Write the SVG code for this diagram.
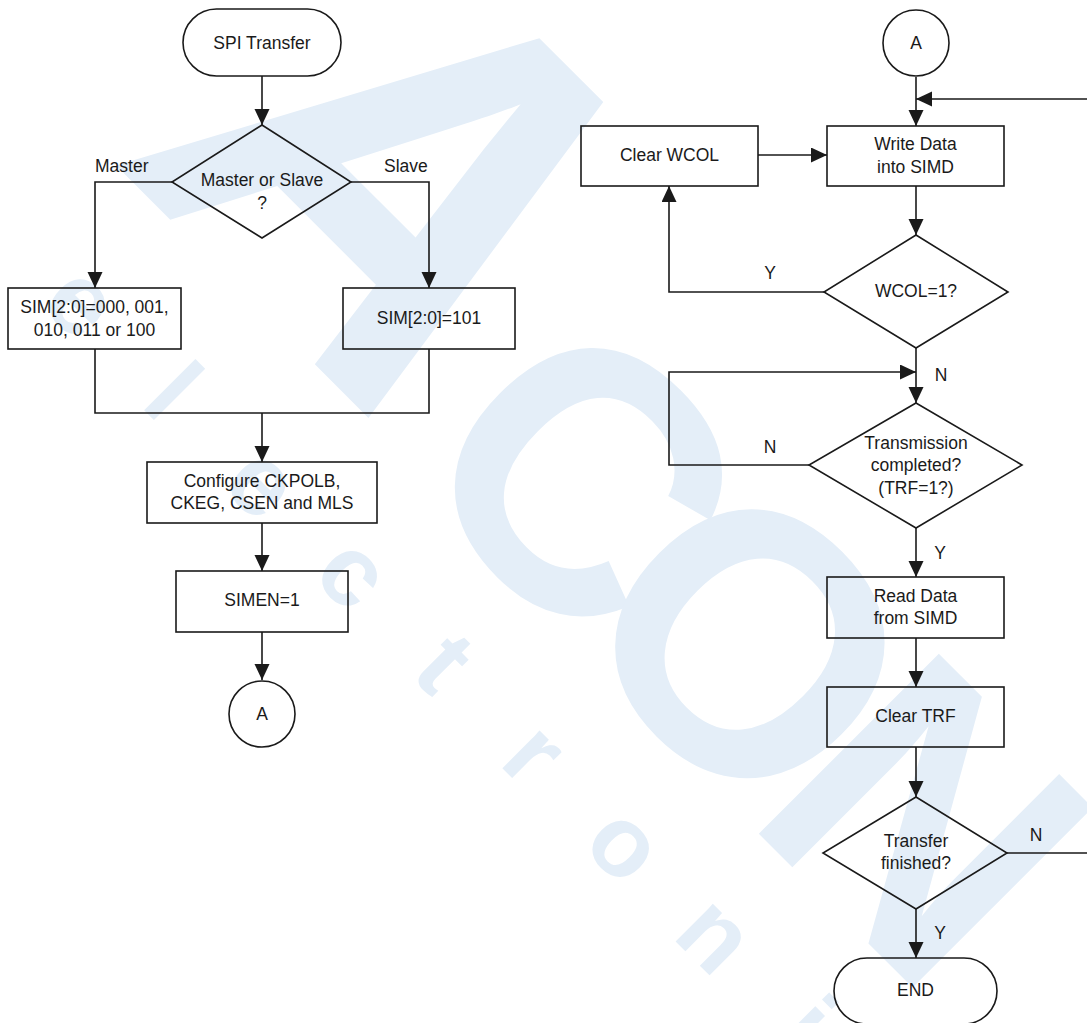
<svg xmlns="http://www.w3.org/2000/svg" width="1087" height="1023" viewBox="0 0 1087 1023">
<defs>
<style>
.n{fill:none;stroke:#1a1a1a;stroke-width:1.6}
.t{font-family:"Liberation Sans",Arial,sans-serif;font-size:17.5px;fill:#1a1a1a;text-anchor:middle}
.l{font-family:"Liberation Sans",Arial,sans-serif;font-size:17.5px;fill:#1a1a1a}
.c{fill:none;stroke:#1a1a1a;stroke-width:1.6}
.a{marker-end:url(#arr)}
.w{font-family:"Liberation Sans",Arial,sans-serif;font-weight:bold;fill:#e4eef8;text-anchor:middle}
</style>
<marker id="arr" markerUnits="userSpaceOnUse" markerWidth="16" markerHeight="16" refX="16" refY="7.5" orient="auto">
<path d="M0,0 L16,7.5 L0,15 Z" fill="#1a1a1a"/>
</marker>
</defs>
<rect width="1087" height="1023" fill="#ffffff"/>
<g id="watermark">
<text class="w" transform="rotate(45) translate(378,35) skewX(-11) scale(0.94,1)" font-size="566" x="0" y="0">A</text>
<text class="w" transform="rotate(45)" font-size="370" x="750 986 1235" y="53">CON</text>
<text class="w" transform="rotate(45)" font-size="100" x="271 399 527 655 783 911 1039 1167 1295 1423 1551" y="188">electronics</text>
</g>
<g id="connectors">
<path class="c a" d="M262,76 V125"/>
<path class="c a" d="M172,182 H95 V288"/>
<path class="c a" d="M351,182 H429 V288"/>
<path class="c" d="M95,349 V413 H429 V349"/>
<path class="c a" d="M262,413 V462"/>
<path class="c a" d="M262,523 V571"/>
<path class="c a" d="M262,632 V680"/>
<path class="c a" d="M916,77 V126"/>
<path class="c a" d="M1007,853 H1100 V99 H916"/>
<path class="c a" d="M758,155 H827"/>
<path class="c a" d="M916,186 V235"/>
<path class="c a" d="M824,292 H669 V186"/>
<path class="c a" d="M916,348 V403"/>
<path class="c a" d="M809,465 H669 V372 H916"/>
<path class="c a" d="M916,528 V577"/>
<path class="c a" d="M916,638 V687"/>
<path class="c a" d="M916,747 V797"/>
<path class="c a" d="M916,909 V958"/>
<text class="l" x="95" y="172">Master</text>
<text class="l" x="384" y="172">Slave</text>
<text class="t" x="770" y="279">Y</text>
<text class="t" x="941" y="381">N</text>
<text class="t" x="770" y="453">N</text>
<text class="t" x="940" y="559">Y</text>
<text class="t" x="1036" y="841">N</text>
<text class="t" x="940" y="939">Y</text>
</g>
<g id="start">
<rect class="n" x="183" y="9" width="158" height="67" rx="33.5"/>
<text class="t" x="262" y="49">SPI Transfer</text>
</g>
<g id="mode">
<polygon class="n" points="262,125 351,182 262,238 172,182"/>
<text class="t" x="262" y="186">Master or Slave</text>
<text class="t" x="262" y="209">?</text>
</g>
<g id="master">
<rect class="n" x="8" y="288" width="173" height="61"/>
<text class="t" x="94.5" y="313">SIM[2:0]=000, 001,</text>
<text class="t" x="94.5" y="336">010, 011 or 100</text>
</g>
<g id="slave">
<rect class="n" x="343" y="288" width="172" height="61"/>
<text class="t" x="429" y="324">SIM[2:0]=101</text>
</g>
<g id="configure">
<rect class="n" x="147" y="462" width="230" height="61"/>
<text class="t" x="262" y="487">Configure CKPOLB,</text>
<text class="t" x="262" y="509">CKEG, CSEN and MLS</text>
</g>
<g id="simen">
<rect class="n" x="176" y="571" width="172" height="61"/>
<text class="t" x="262" y="606">SIMEN=1</text>
</g>
<g id="connA1">
<circle class="n" cx="262" cy="714" r="33"/>
<text class="t" x="262" y="720">A</text>
</g>
<g id="connA2">
<circle class="n" cx="916" cy="43" r="33"/>
<text class="t" x="916" y="49">A</text>
</g>
<g id="write">
<rect class="n" x="827" y="126" width="177" height="60"/>
<text class="t" x="915.5" y="150">Write Data</text>
<text class="t" x="915.5" y="173">into SIMD</text>
</g>
<g id="clearwcol">
<rect class="n" x="581" y="126" width="177" height="60"/>
<text class="t" x="669.5" y="161">Clear WCOL</text>
</g>
<g id="wcol">
<polygon class="n" points="916,235 1008,292 916,348 824,292"/>
<text class="t" x="916" y="297">WCOL=1?</text>
</g>
<g id="trans">
<polygon class="n" points="916,403 1022,465 916,528 809,465"/>
<text class="t" x="916" y="449">Transmission</text>
<text class="t" x="916" y="471">completed?</text>
<text class="t" x="916" y="494">(TRF=1?)</text>
</g>
<g id="read">
<rect class="n" x="827" y="577" width="177" height="61"/>
<text class="t" x="915.5" y="602">Read Data</text>
<text class="t" x="915.5" y="624">from SIMD</text>
</g>
<g id="cleartrf">
<rect class="n" x="827" y="687" width="177" height="60"/>
<text class="t" x="915.5" y="722">Clear TRF</text>
</g>
<g id="finished">
<polygon class="n" points="916,797 1007,853 916,909 823,853"/>
<text class="t" x="916" y="847">Transfer</text>
<text class="t" x="916" y="869">finished?</text>
</g>
<g id="end">
<rect class="n" x="834" y="958" width="163" height="66" rx="33"/>
<text class="t" x="915.5" y="996">END</text>
</g>
</svg>
